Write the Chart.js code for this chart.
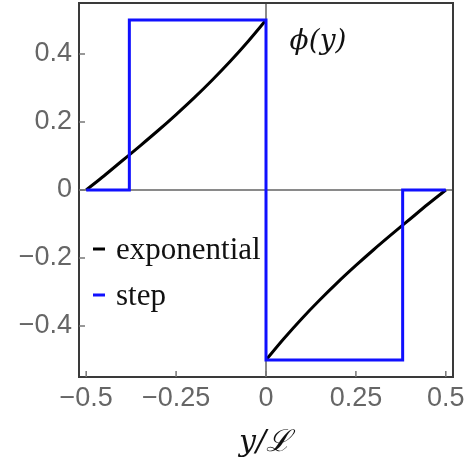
<!DOCTYPE html>
<html>
<head>
<meta charset="utf-8">
<script src="https://cdn.jsdelivr.net/npm/chart.js@4/dist/chart.umd.min.js"></script>
<style>
  html, body { margin: 0; padding: 0; background: #fff; }
  #wrap { width: 470px; height: 464px; }
</style>
</head>
<body>
<div id="wrap"><canvas id="phiChart" width="470" height="464"></canvas></div>
<script>
// --- data ---
const xTicks = [-0.5, -0.25, 0, 0.25, 0.5];
const yTicks = [-0.4, -0.2, 0, 0.2, 0.4];

// exponential profile, left half (y/L from -0.5 to 0)
const expLeftX = [-0.5, -0.45, -0.4, -0.35, -0.3, -0.25, -0.2, -0.15, -0.1, -0.05, 0];
const expLeftY = [0, 0.042, 0.086, 0.130, 0.175, 0.222, 0.271, 0.323, 0.378, 0.437, 0.5];
// right half (y/L from 0 to 0.5)
const expRightX = [0, 0.05, 0.1, 0.15, 0.2, 0.25, 0.3, 0.35, 0.4, 0.45, 0.5];
const expRightY = [-0.5, -0.437, -0.378, -0.323, -0.271, -0.222, -0.175, -0.130, -0.086, -0.042, 0];

// step profile corners
const stepX = [-0.5, -0.38, -0.38, 0, 0, 0.38, 0.38, 0.5];
const stepY = [0, 0, 0.5, 0.5, -0.5, -0.5, 0, 0];

const seriesLabels = ['exponential', 'step'];

// --- build point lists ---
function toPoints(xs, ys) {
  return xs.map((x, i) => ({ x: x, y: ys[i] }));
}
const expPoints = toPoints(expLeftX, expLeftY)
  .concat([{ x: 0, y: null }])
  .concat(toPoints(expRightX, expRightY));
const stepPoints = toPoints(stepX, stepY);

// --- frame, inward ticks, legend and labels ---
const decorPlugin = {
  id: 'decor',
  afterDraw(chart) {
    const ctx = chart.ctx;
    const a = chart.chartArea;
    const xs = chart.scales.x;
    const ys = chart.scales.y;

    ctx.save();
    // frame
    ctx.strokeStyle = '#3a3a3a';
    ctx.lineWidth = 2;
    ctx.strokeRect(a.left, a.top, a.right - a.left, a.bottom - a.top);

    // tick marks pointing inward
    ctx.strokeStyle = '#777';
    ctx.lineWidth = 1.5;
    ctx.beginPath();
    xTicks.forEach(v => {
      const px = xs.getPixelForValue(v);
      ctx.moveTo(px, a.bottom);
      ctx.lineTo(px, a.bottom - 6);
    });
    yTicks.forEach(v => {
      const py = ys.getPixelForValue(v);
      ctx.moveTo(a.left, py);
      ctx.lineTo(a.left + 6, py);
    });
    ctx.stroke();

    // legend inside the plot
    const legendY = [249, 295];
    chart.data.datasets.forEach((ds, i) => {
      ctx.strokeStyle = ds.borderColor;
      ctx.lineWidth = 3;
      ctx.beginPath();
      ctx.moveTo(93, legendY[i]);
      ctx.lineTo(105, legendY[i]);
      ctx.stroke();
      ctx.fillStyle = '#111';
      ctx.font = '31px "Liberation Serif", serif';
      ctx.textAlign = 'left';
      ctx.textBaseline = 'alphabetic';
      ctx.fillText(ds.label, 116, legendY[i] + 10);
    });

    // function label
    ctx.fillStyle = '#111';
    ctx.font = 'italic 28px "DejaVu Serif", serif';
    ctx.textAlign = 'center';
    ctx.fillText('\u03D5(y)', 318, 49);

    // axis label
    ctx.font = 'italic 30px "DejaVu Serif", serif';
    ctx.fillText('y/\u2112', 265, 451);
    ctx.restore();
  }
};

const zeroColor = c => (c.tick && c.tick.value === 0 ? '#8a8a8a' : 'rgba(0,0,0,0)');

new Chart(document.getElementById('phiChart'), {
  type: 'scatter',
  data: {
    datasets: [
      {
        label: seriesLabels[0],
        data: expPoints,
        showLine: true,
        borderColor: '#000',
        borderWidth: 3,
        pointRadius: 0,
        cubicInterpolationMode: 'monotone',
        spanGaps: false,
        order: 2
      },
      {
        label: seriesLabels[1],
        data: stepPoints,
        showLine: true,
        borderColor: '#1010ff',
        borderWidth: 3,
        pointRadius: 0,
        tension: 0,
        order: 1
      }
    ]
  },
  options: {
    responsive: false,
    animation: false,
    layout: { padding: { left: 0, right: 17, top: 3, bottom: 0 } },
    plugins: {
      legend: { display: false },
      tooltip: { enabled: false }
    },
    scales: {
      x: {
        type: 'linear',
        min: -0.52,
        max: 0.52,
        afterBuildTicks: s => { s.ticks = xTicks.map(v => ({ value: v })); },
        afterFit: s => { s.height = 87; s.paddingLeft = 0; s.paddingRight = 0; },
        border: { display: false },
        grid: { drawTicks: false, color: zeroColor, lineWidth: 2 },
        ticks: {
          padding: 5,
          color: '#666',
          font: { family: '"Liberation Sans", Arial, sans-serif', size: 27 },
          callback: v => String(v).replace('-', '\u2212')
        }
      },
      y: {
        type: 'linear',
        min: -0.55,
        max: 0.55,
        afterBuildTicks: s => { s.ticks = yTicks.map(v => ({ value: v })); },
        afterFit: s => { s.width = 79; s.paddingTop = 0; s.paddingBottom = 0; },
        border: { display: false },
        grid: { drawTicks: false, color: zeroColor, lineWidth: 2 },
        ticks: {
          padding: 7,
          color: '#666',
          font: { family: '"Liberation Sans", Arial, sans-serif', size: 27 },
          callback: v => String(v).replace('-', '\u2212')
        }
      }
    }
  },
  plugins: [decorPlugin]
});
</script>
</body>
</html>
